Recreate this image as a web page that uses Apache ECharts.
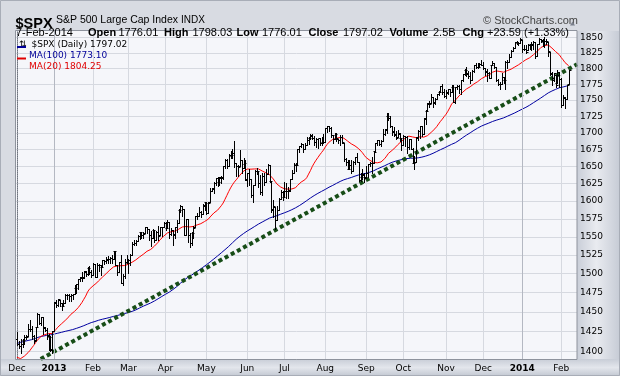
<!DOCTYPE html>
<html><head><meta charset="utf-8">
<script src="https://cdn.jsdelivr.net/npm/echarts@6/dist/echarts.min.js"></script>
<style>html,body{margin:0;padding:0;background:#d8dbe2}#c{width:620px;height:376px}</style>
</head><body><div id="c"></div><script>
// ---------------- DATA ----------------
const monthLabels = ['Dec','2013','Feb','Mar','Apr','May','Jun','Jul','Aug','Sep','Oct','Nov','Dec','2014','Feb'];
const monthDays   = [20,21,19,20,22,22,20,22,22,20,23,20,21,21,5];   // trading days in each month shown
const yTicks = [1400,1425,1450,1475,1500,1525,1550,1575,1600,1625,1650,1675,1700,1725,1750,1775,1800,1825,1850];
// closes before the visible window (needed for the moving averages)
const priorClose = [1341.45,1334.76,1356.78,1353.64,1363.67,1372.78,1376.51,1362.66,1350.52,1338.31,1337.89,1360.02,1385.97,1385.30,1379.32,
1375.32,1365.00,1390.99,1394.23,1401.35,1402.22,1402.80,1405.87,1404.11,1403.93,1405.53,1415.51,1418.16,1418.13,1413.17,1413.49,1402.08,1411.13,1410.44,1409.30,1410.49,1399.48,1406.58,
1404.94,1403.44,1432.12,1437.92,1429.08,1433.56,1436.56,1459.99,1465.77,1461.19,1459.32,1461.05,1460.26,1460.15,1456.89,1441.59,1433.32,1447.15,1440.67,
1444.49,1445.75,1450.99,1461.40,1460.93,1455.88,1441.48,1432.56,1432.84,1428.59,1440.13,1454.92,1460.91,1457.34,1433.19,1433.82,1413.11,1408.75,1412.97,1411.94,1412.16,
1427.59,1414.20,1417.26,1428.39,1394.53,1377.51,1379.85,1380.03,1374.53,1355.49,1353.33,1359.88,1386.89,1387.81,1391.03,1409.15,1406.29,1398.94,1409.93,1415.95,1416.18];
// daily bars: [open, high, low, close]
const ohlc = [
[1416,1424,1408,1409.46],[1409,1413,1404,1407.05],[1407,1416,1398,1409.28],[1409,1415,1406,1413.94],[1414,1421,1409,1418.07],
[1418,1421,1416,1418.55],[1419,1434,1419,1427.84],[1428,1439,1426,1428.48],[1428,1432,1416,1419.45],[1419,1420,1411,1413.58],
[1414,1431,1414,1430.36],[1431,1448,1431,1446.79],[1447,1447,1435,1435.81],[1436,1444,1433,1443.69],[1444,1444,1422,1430.15],
[1430,1431,1425,1426.66],[1427,1429,1415,1419.83],[1420,1422,1402,1418.10],[1418,1419,1401,1402.43],[1402,1426,1398.11,1426.19],
[1426,1462.43,1426,1462.42],[1462,1465,1456,1459.37],[1459,1467,1458,1466.47],[1466,1466,1457,1461.89],[1462,1462,1452,1457.15],
[1457,1465,1457,1461.02],[1461,1473,1461,1472.12],[1472,1473,1467,1472.05],[1472,1473,1464,1470.68],[1470,1473,1464,1472.34],
[1472,1473,1467,1472.63],[1473,1485,1473,1480.94],[1481,1486,1475,1485.98],[1486,1493,1480,1492.56],[1493,1496,1490,1494.81],
[1495,1502,1490,1494.82],[1495,1503,1494,1502.96],[1503,1504,1497,1500.18],[1500,1509,1498,1507.84],[1508,1510,1499,1501.96],
[1502,1505,1496,1498.11],
[1498,1514,1498,1513.17],[1513,1513,1495,1495.71],[1496,1514,1496,1511.29],[1511,1513,1504,1512.12],[1512,1512,1498,1509.39],
[1509,1519,1509,1517.93],[1518,1518,1513,1517.01],[1517,1522,1515,1519.43],[1519,1524,1514,1520.33],[1520,1523,1514,1521.38],
[1521,1525,1514,1519.79],[1520,1531,1520,1530.94],[1531,1531,1512,1511.95],[1512,1512,1498,1502.42],[1502,1516,1502,1515.60],
[1516,1525,1488,1487.85],[1488,1499,1485,1496.94],[1497,1520,1494,1515.99],[1516,1525,1514,1514.68],
[1515,1520,1501,1518.20],[1518,1526,1512,1525.20],[1525,1543,1525,1539.79],[1540,1545,1539,1541.46],[1541,1546,1539,1544.26],
[1544,1553,1544,1551.18],[1551,1557,1547,1556.22],[1556,1556,1548,1552.48],[1552,1557,1548,1554.52],[1555,1563,1555,1563.23],
[1563,1563,1555,1560.70],[1561,1561,1545,1552.10],[1552,1558,1538,1548.34],[1548,1561,1548,1558.71],[1559,1559,1543,1545.80],
[1546,1558,1546,1556.89],[1557,1565,1546,1551.69],[1552,1564,1552,1563.77],[1564,1564,1551,1562.85],[1563,1570,1563,1569.19],
[1569,1570,1559,1562.17],[1562,1573,1562,1570.25],[1570,1571,1549,1553.69],[1554,1562,1552,1559.98],[1560,1560,1539,1553.28],
[1553,1563,1549,1563.07],[1563,1573,1557,1568.61],[1569,1589,1569,1587.73],[1588,1594,1585,1593.37],[1593,1593,1579,1588.85],
[1589,1589,1552,1552.36],[1552,1575,1552,1574.57],[1575,1575,1543,1552.01],[1552,1555,1536,1541.61],[1542,1556,1539,1555.25],
[1555,1565,1548,1562.50],[1563,1579,1563,1578.78],[1579,1583,1575,1578.79],[1579,1592,1579,1585.16],[1585,1586,1577,1582.24],
[1582,1596,1582,1593.61],[1594,1598,1587,1597.57],
[1598,1598,1582,1582.70],[1583,1599,1583,1597.59],[1598,1619,1598,1614.42],[1614,1619,1614,1617.50],[1618,1627,1612,1625.96],
[1626,1633,1623,1632.69],[1633,1635,1622,1626.67],[1627,1634,1623,1633.70],[1634,1636,1626,1633.77],[1634,1651,1632,1650.34],
[1650,1661,1647,1658.78],[1659,1661,1647,1650.47],[1650,1668,1650,1667.47],[1667,1672,1662,1666.29],[1666,1675,1662,1669.16],
[1669,1687.18,1649,1655.35],[1655,1655,1636,1650.51],[1651,1652,1636,1649.60],[1650,1674,1650,1660.06],[1660,1660,1640,1648.36],
[1648,1662,1648,1654.41],[1654,1659,1630,1630.74],
[1631,1641,1622,1640.42],[1640,1646,1623,1631.38],[1631,1632,1606,1608.90],[1609,1623,1598,1622.56],[1623,1644,1623,1643.38],
[1643,1648,1639,1642.81],[1643,1643,1620,1626.13],[1626,1637,1610,1612.52],[1613,1640,1608,1636.36],[1636,1641,1623,1626.73],
[1627,1646,1627,1639.04],[1639,1654,1639,1651.81],[1652,1652,1628,1628.93],[1629,1629,1585,1588.19],[1588,1601,1577,1592.43],
[1592,1592,1560.33,1573.09],[1573,1593,1573,1588.03],[1588,1605,1588,1603.26],[1603,1616,1603,1613.20],[1613,1615,1601,1606.28],
[1606,1627,1606,1614.96],[1615,1626,1605,1614.08],[1614,1620,1604,1615.41],[1615,1632,1615,1631.89],[1632,1644,1632,1640.46],
[1640,1655,1640,1652.32],[1652,1655,1643,1652.62],[1653,1676,1653,1675.02],[1675,1680,1671,1680.19],[1680,1685,1679,1682.50],
[1683,1683,1671,1676.26],[1676,1684,1675,1680.91],[1681,1693,1681,1689.37],[1689,1693,1683,1692.09],[1692,1698,1691,1695.53],
[1696,1698,1691,1692.39],[1692,1695,1681,1685.94],[1686,1692,1679,1690.25],[1690,1691,1677,1691.65],[1692,1692,1682,1685.33],
[1685,1693,1681,1685.96],[1686,1698,1684,1685.73],
[1686,1707,1686,1706.87],[1707,1710,1701,1709.67],[1710,1710,1703,1707.14],[1707,1708,1693,1697.37],[1697,1697,1684,1690.91],
[1691,1700,1691,1697.48],[1697,1699,1688,1691.42],[1691,1691,1684,1689.47],[1689,1696,1682,1694.16],[1694,1696,1685,1685.39],
[1685,1685,1658,1661.32],[1661,1663,1652,1655.83],[1656,1660,1646,1646.06],[1646,1660,1646,1652.35],[1652,1659,1641,1642.80],
[1643,1658,1643,1656.96],[1657,1664,1654,1663.50],[1664,1670,1656,1656.78],[1657,1657,1629,1630.48],[1630,1641,1629,1634.96],
[1635,1646,1631,1638.17],[1638,1641,1627,1632.97],
[1635,1651,1633,1639.77],[1640,1654,1634,1653.08],[1653,1657,1651,1655.08],[1655,1664,1641,1655.17],[1655,1672,1655,1671.71],
[1672,1684,1672,1683.99],[1684,1689,1681,1689.13],[1689,1689,1681,1683.42],[1683,1689,1680,1687.99],[1688,1705,1688,1697.60],
[1698,1706,1697,1704.76],[1705,1730,1700,1725.52],[1726,1730,1720,1722.34],[1722,1725,1709,1709.91],[1710,1711,1697,1701.84],
[1702,1708,1695,1697.42],[1697,1702,1691,1692.77],[1693,1704,1693,1698.67],[1699,1699,1687,1691.75],[1692,1692,1674,1681.55],
[1682,1696,1682,1695.00],[1695,1695,1680,1693.87],[1694,1695,1670,1678.66],[1679,1691,1676,1690.50],[1691,1691,1675,1676.12],
[1676,1677,1655,1655.45],[1655,1666,1646.47,1656.40],[1656,1693,1656,1692.56],[1693,1704,1689,1703.20],[1703,1711,1692,1710.14],
[1710,1711,1695,1698.06],[1698,1722,1698,1721.54],[1722,1734,1714,1733.15],[1733,1745,1733,1744.50],[1745,1748,1740,1744.66],
[1745,1759,1745,1754.67],[1755,1755,1740,1746.38],[1746,1753,1744,1752.07],[1752,1760,1752,1759.77],[1760,1765,1758,1762.11],
[1762,1772,1762,1771.95],[1772,1775,1759,1763.31],[1763,1768,1755,1756.54],
[1757,1766,1753,1761.64],[1762,1768,1759,1767.93],[1768,1768,1756,1762.97],[1763,1773,1763,1770.49],[1770,1774,1747,1747.15],
[1747,1771,1746,1770.61],[1771,1774,1767,1771.89],[1772,1773,1761,1767.69],[1768,1782,1760,1782.00],[1782,1791,1780,1790.62],
[1791,1799,1790,1798.18],[1798,1802,1788,1791.53],[1792,1796,1785,1787.87],[1788,1795,1777,1781.37],[1781,1798,1781,1795.85],
[1796,1805,1794,1804.76],[1805,1809,1800,1802.48],[1802,1808,1800,1802.75],[1803,1809,1802,1807.23],[1807,1814,1805,1805.81],
[1806,1811,1799,1800.90],[1801,1801,1789,1795.15],[1795,1799,1780,1792.81],[1793,1795,1784,1785.03],[1785,1806,1785,1805.09],
[1805,1812,1805,1808.37],[1808,1809,1801,1802.62],[1803,1803,1780,1782.22],[1782,1783,1773,1775.50],[1776,1778,1768,1775.32],
[1775,1792,1775,1786.54],[1787,1787,1777,1781.00],[1781,1812,1768,1810.65],[1811,1813,1801,1809.60],[1810,1823,1810,1818.32],
[1818,1829,1818,1827.99],[1828,1834,1828,1833.32],[1833,1842,1833,1842.02],[1842,1845,1839,1841.40],[1841,1843,1838,1841.07],
[1841,1849,1841,1848.36],
[1846,1846,1827,1831.98],[1832,1838,1830,1831.37],[1832,1837,1824,1826.77],[1829,1840,1829,1837.88],[1838,1840,1831,1837.49],
[1839,1843,1830,1838.13],[1840,1844,1832,1842.37],[1842,1843,1816,1819.20],[1820,1839,1820,1838.88],[1840,1850,1840,1848.38],
[1847,1848,1843,1845.89],[1845,1847,1836,1838.70],[1842,1850.84,1834,1843.80],[1845,1847,1840,1844.86],[1842,1842,1820,1828.46],
[1826,1826,1790,1790.29],[1792,1794,1773,1781.56],[1784,1793,1780,1792.50],[1790,1790,1770,1774.20],[1777,1798,1777,1794.19],
[1790,1794,1771,1782.59],
[1783,1785,1739.66,1741.89],[1743,1758,1743,1755.20],[1753,1755,1737.92,1751.64],[1752,1774,1752,1773.43],[1776.01,1798.03,1776.01,1797.02]
];
// trend line end points: [bar index, price]
const trendIdx = [12.8, 301.5];
const trendVal = [1390.6, 1806.5];
const headerDate = '7-Feb-2014';
const headerVolume = '2.5B';

// ---------------- BUILD ----------------
const N = ohlc.length;
const NCAT = N + 4;
const monthStart = [];
monthDays.reduce((acc, d) => { monthStart.push(acc); return acc + d; }, 0);
const labelAt = {};
monthStart.forEach((s, k) => labelAt[s] = monthLabels[k]);

const closes = ohlc.map(r => r[3]);
const allClose = priorClose.concat(closes);
function movingAvg(n) {
  const out = [];
  for (let i = 0; i < N; i++) {
    const end = priorClose.length + i;
    let s = 0;
    for (let k = end - n + 1; k <= end; k++) s += allClose[k];
    out.push([i, s / n]);
  }
  return out;
}
const ma20 = movingAvg(20), ma100 = movingAvg(100);
const last = ohlc[N - 1], prevClose = ohlc[N - 2][3];
const chg = last[3] - prevClose;

const chart = echarts.init(document.getElementById('c'), null, {renderer: 'canvas'});
const SANS = 'Liberation Sans, Arial, sans-serif';
const SMALL = 'DejaVu Sans, Verdana, sans-serif';

function hdr(x, y, text, opt) {
  return Object.assign({type: 'text', x: x, y: y, z: 10,
    style: Object.assign({text: text, fill: '#000', font: '11px ' + SANS, textVerticalAlign: 'alphabetic'}, opt || {})});
}
const line2 = [
  [16, headerDate, false],
  [88, 'Open', true], [118.5, last[0].toFixed(2), false],
  [164, 'High', true], [192.5, last[1].toFixed(2), false],
  [236.5, 'Low', true], [262, last[2].toFixed(2), false],
  [308.5, 'Close', true], [343, last[3].toFixed(2), false],
  [389.5, 'Volume', true], [433, headerVolume, false],
  [462.5, 'Chg', true], [487, (chg >= 0 ? '+' : '') + chg.toFixed(2) + ' (' + (chg >= 0 ? '+' : '') + (chg / prevClose * 100).toFixed(2) + '%)', false]
];

const graphics = [
  {type: 'rect', z: -5, shape: {x: 577, y: 31, width: 43, height: 328},
    style: {fill: new echarts.graphic.LinearGradient(0, 0, 1, 0, [
      {offset: 0, color: '#c9ced8'}, {offset: 0.45, color: '#e9ebf0'}, {offset: 1, color: '#c6cbd5'}])}},
  {type: 'rect', z: -5, shape: {x: 0, y: 359, width: 620, height: 17},
    style: {fill: new echarts.graphic.LinearGradient(0, 0, 0, 1, [
      {offset: 0, color: '#c8cdd7'}, {offset: 0.5, color: '#e3e6ec'}, {offset: 1, color: '#c3c8d2'}])}},
  {type: 'rect', z: 5, shape: {x: 15.5, y: 30.5, width: 561.5, height: 329}, style: {fill: null, stroke: '#8e939d', lineWidth: 1}},
  {type: 'rect', z: 5, shape: {x: 0.5, y: 0.5, width: 619, height: 375}, style: {fill: null, stroke: '#a8adb7', lineWidth: 1}},
  hdr(15.5, 16, '$SPX', {font: 'bold 14.5px ' + SANS}),
  hdr(56, 15, 'S&P 500 Large Cap Index', {font: '10.5px ' + SANS}),
  hdr(181, 15, 'INDX', {font: '10px ' + SANS}),
  hdr(578, 15, '\u00A9 StockCharts.com', {font: '11px ' + SANS, fill: '#444', textAlign: 'right'}),
  {type: 'polygon', z: 10, shape: {points: [[570, 25.5], [575, 25.5], [572.5, 21.5]]}, style: {fill: '#7a808c'}},
  hdr(19, 40, '\u21C5', {font: '9px ' + SMALL}),
  hdr(31.5, 40, '$SPX (Daily) ' + last[3].toFixed(2), {font: '9px ' + SMALL}),
  {type: 'rect', z: 10, shape: {x: 17, y: 46, width: 9, height: 2}, style: {fill: '#000099'}},
  hdr(29, 51, 'MA(100) ' + ma100[N - 1][1].toFixed(2), {font: '9px ' + SMALL, fill: '#000099'}),
  {type: 'rect', z: 10, shape: {x: 17, y: 57.5, width: 9, height: 2}, style: {fill: '#e00000'}},
  hdr(29, 62.5, 'MA(20) ' + ma20[N - 1][1].toFixed(2), {font: '9px ' + SMALL, fill: '#e00000'})
];
line2.forEach(([x, t, b]) => graphics.push(hdr(x, 27, t, {font: (b ? 'bold ' : '') + '11px ' + SANS})));

const yearStarts = monthStart.filter((s, k) => /^\d{4}$/.test(monthLabels[k]));

const option = {
  backgroundColor: '#d8dbe2',
  animation: false,
  grid: {left: 16, right: 43, top: 31, bottom: 17, show: true, backgroundColor: '#f5f6fa', borderWidth: 0},
  xAxis: {
    type: 'value', min: -0.5, max: NCAT - 0.5,
    axisLine: {show: false},
    axisTick: {show: false, customValues: monthStart},
    axisLabel: {
      customValues: monthStart, margin: 5, fontSize: 9, fontFamily: SMALL, color: '#000',
      formatter: v => { const t = labelAt[Math.round(v)] || ''; return /^\d{4}$/.test(t) ? '{b|' + t + '}' : t; },
      rich: {b: {fontWeight: 'bold', fontSize: 9, fontFamily: SMALL, color: '#000'}}
    },
    splitLine: {show: true, lineStyle: {color: '#d6d9e0', width: 1}}
  },
  yAxis: {
    type: 'log', logBase: 10, position: 'right', min: 1390.6, max: 1860.8,
    axisLine: {show: true, lineStyle: {color: '#6f747e', type: 'dotted', width: 1}},
    axisTick: {show: false, customValues: yTicks},
    axisLabel: {customValues: yTicks, margin: 3, fontSize: 9, fontFamily: SMALL, color: '#000',
      formatter: v => String(Math.round(v))},
    splitLine: {show: true, lineStyle: {color: '#d6d9e0', width: 1}}
  },
  graphic: graphics,
  series: [
    {type: 'line', data: yearStarts.map(s => [s, 1500]), symbol: 'none', lineStyle: {width: 0}, silent: true,
      markLine: {symbol: 'none', silent: true, label: {show: false}, lineStyle: {color: '#b4b8c2', width: 1, type: 'solid'},
        data: yearStarts.map(s => ({xAxis: s}))}},
    {type: 'line', name: 'MA(100)', data: ma100, showSymbol: false, symbol: 'none', lineStyle: {color: '#0000a0', width: 1}, z: 3},
    {type: 'line', name: 'MA(20)', data: ma20, showSymbol: false, symbol: 'none', lineStyle: {color: '#ff0000', width: 1}, z: 3},
    {type: 'line', name: 'trend', data: trendIdx.map((x, k) => [x, trendVal[k]]), showSymbol: false, symbol: 'none',
      lineStyle: {color: '#174d17', width: 4, type: [4, 3]}, z: 4},
    {type: 'custom', name: '$SPX', clip: true, z: 5,
      data: ohlc.map((r, i) => [i, r[0], r[1], r[2], r[3]]),
      encode: {x: 0, y: [1, 2, 3, 4]},
      renderItem: (params, api) => {
        const i = api.value(0);
        const o = api.coord([i, api.value(1)]);
        const h = api.coord([i, api.value(2)]);
        const l = api.coord([i, api.value(3)]);
        const c = api.coord([i, api.value(4)]);
        const x = Math.round(o[0]) + 0.5;
        const st = {stroke: '#000', lineWidth: 1};
        const yo = Math.round(o[1]) + 0.5, yc = Math.round(c[1]) + 0.5;
        return {type: 'group', children: [
          {type: 'line', shape: {x1: x, y1: Math.round(h[1]), x2: x, y2: Math.round(l[1]) + 1}, style: st},
          {type: 'line', shape: {x1: x - 2, y1: yo, x2: x, y2: yo}, style: st},
          {type: 'line', shape: {x1: x, y1: yc, x2: x + 2, y2: yc}, style: st}
        ]};
      }
    }
  ]
};
chart.setOption(option);
</script></body></html>
